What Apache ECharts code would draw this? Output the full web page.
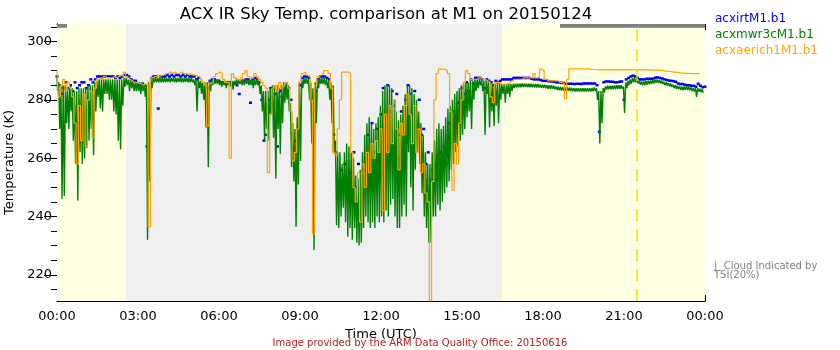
<!DOCTYPE html>
<html>
<head>
<meta charset="utf-8">
<title>ACX IR Sky Temp. comparison at M1 on 20150124</title>
<script src="https://cdn.jsdelivr.net/npm/echarts@6/dist/echarts.min.js"></script>
<style>
    html, body { margin: 0; padding: 0; background: #fff; }
    #chart { width: 840px; height: 350px; }
</style>
</head>
<body>
<div id="chart"></div>
<script>
// 5-minute samples, one row per hour (:00 ... :55); irt also has the 24:00 point
var irtTemp = [
    288, 285, 282, 284, 286, 284, 285, 283, 286, 284, 285, 286,
    286, 284, 285, 287, 286, 287, 288, 288, 288, 288, 288, 288,
    288, 288, 287.5, 288, 287.5, 288, 288.5, 288.5, 288, 287, 286.5, 286.5,
    285.5, 285, 285.5, 285, 264, 272, 287.5, 288, 288, 277, 288, 288,
    288, 288.5, 288, 288.5, 288, 288.5, 288.5, 288, 288.5, 288, 288.5, 288,
    288, 288, 287, 287.5, 285, 283, 282, 284, 286.5, 287, 287, 286.5,
    286.5, 286, 286, 285.5, 286, 286, 285.5, 285.5, 285, 282, 286, 286.5,
    287, 287, 279, 287, 287.5, 287, 286, 280, 266, 268, 280, 284,
    284, 282, 264, 283, 281, 284, 285, 284, 280, 262, 266, 270,
    285, 287.5, 288, 288, 287.5, 280, 243, 283, 287, 288, 288, 288,
    287.5, 287, 283, 268, 262, 250, 256, 249, 258, 248, 255, 250,
    262, 250, 258, 245, 256, 250, 268, 258, 272, 262, 270, 264,
    275, 284, 270, 285, 276, 283, 278, 282, 268, 276, 270, 280,
    285, 282, 275, 283, 270, 280, 268, 270, 258, 262, 252, 256,
    258, 254, 262, 256, 264, 258, 272, 266, 276, 270, 279, 274,
    284, 282, 286, 283, 287, 285.5, 287.5, 287.5, 287.5, 287, 284, 287,
    286.5, 286, 285, 286.5, 286, 286.5, 287, 287, 287, 287, 287, 287.5,
    287.5, 287.5, 287.5, 287.5, 287.5, 287.5, 287.5, 287.2, 287, 287, 287, 286.8,
    286.5, 286.5, 286.5, 286.3, 286.3, 286.2, 286, 286, 285.8, 285.8, 285.5, 285.5,
    285.5, 285.5, 285.4, 285.5, 285.5, 285.4, 285.6, 285.6, 285.6, 285.6, 285.6, 285.6,
    285, 269, 279, 286, 286.3, 286.3, 286.2, 286.2, 286, 286, 286.2, 286.3,
    280, 287, 287.5, 288, 288.3, 288, 287.5, 287, 287, 287, 287.2, 287.2,
    287.2, 287.3, 287.6, 287.7, 287.5, 287.3, 287, 286.8, 286.6, 286.5, 286.4, 286.2,
    285.6, 285.4, 285.4, 285.2, 285, 285, 284.8, 284.8, 284.5, 285.5, 284.8, 284.3,
    284.5
];

// microwave radiometer: highest and lowest value inside each 5-minute bin
var mwrHigh = [
    287.5, 286, 285, 285, 285, 284, 285, 284, 283, 283, 284, 284,
    284, 284, 285, 285, 285, 286, 286.5, 287, 287, 287, 287, 287,
    287, 287, 287, 287, 287, 287, 287.5, 287.5, 287, 287, 286.5, 286,
    286, 286, 286, 285.5, 285, 286, 287, 287.5, 287.5, 287.5, 287.5, 287.5,
    287.5, 287.5, 287.5, 287.5, 287.5, 287.5, 287.5, 287.5, 287.5, 287.5, 287.5, 287.5,
    287.5, 287, 287, 287, 286.5, 286, 286, 286, 286.5, 287, 287, 287,
    287, 286.5, 286.5, 286.5, 286.5, 286.5, 286.5, 286.5, 287, 287, 287, 287,
    287, 287, 287, 287, 287, 287, 286.5, 285, 283, 283, 283, 284,
    285, 285, 285, 284, 285, 286, 286, 285, 279, 272, 270, 274,
    286, 287, 287.5, 287.5, 287, 286, 284, 286, 287, 287.5, 287.5, 287.5,
    287, 286.5, 286, 285, 266, 262, 262, 258, 262, 265, 264, 262,
    260, 254, 253, 256, 262, 268, 272, 274, 272, 270, 272, 274,
    278, 283, 285, 285.5, 285, 284, 280, 276, 273, 275, 278, 282,
    285, 285, 284, 282, 280, 276, 272, 268, 262, 258, 258, 262,
    266, 270, 272, 270, 271, 274, 277, 278, 280, 282, 283, 284,
    285, 285.5, 286, 286, 286.5, 286.5, 287, 287, 287, 286.5, 286.5, 286.5,
    286, 286, 285.5, 285.5, 285.5, 285.5, 285.5, 285.5, 285.5, 285.5, 285.5, 285.5,
    285.5, 285.5, 285.5, 285.6, 285.6, 285.5, 285.5, 285.5, 285.4, 285.4, 285.4, 285.3,
    285.2, 285.2, 285, 285, 285, 284.8, 284.6, 284.5, 284.4, 284.3, 284.2, 284.2,
    284.2, 284.1, 284, 284, 284, 284, 284, 284, 284, 284, 284.1, 284.2,
    284, 283, 283, 284, 284.6, 284.8, 284.8, 284.8, 284.9, 285, 285, 285,
    284.5, 286, 286.5, 287, 287.5, 287.5, 287, 286.5, 286.3, 286.3, 286.5, 286.6,
    286.6, 286.8, 287, 287, 286.8, 286.6, 286.2, 286, 285.8, 285.6, 285.2, 285,
    284.8, 284.6, 284.5, 284.6, 284.6, 284.5, 284.2, 284, 284, 284, 283.8, 283.6
];

var mwrLow = [
    283, 270, 246, 247, 272, 270, 276, 266, 258, 245.5, 262, 258,
    260, 263.5, 266, 270, 261, 276, 281, 277, 276, 282, 282, 280,
    280, 276, 275, 266, 263, 278, 284.5, 285, 283, 284, 283, 283,
    283, 282, 283, 281, 232, 252, 284, 286, 286, 286, 286, 286,
    286, 286.2, 286, 286.3, 286, 286, 286.2, 286, 286, 286.2, 286, 286,
    286, 285, 276, 284, 282, 280, 270.5, 257, 283, 285, 285.5, 285.5,
    285, 284.5, 285, 284, 285, 284.5, 283.5, 285, 285, 285.5, 285, 285,
    285.5, 285, 285, 284, 285, 285, 282, 276, 266, 270, 266, 275,
    267, 253, 270, 261.5, 272, 279, 280, 276, 257, 252, 236.5, 251,
    259, 284, 285.5, 285.5, 280, 265, 228.5, 272, 284, 285.5, 285.5, 285,
    284, 280, 272, 262, 237, 236, 240, 243, 238, 233, 236, 232,
    236, 231, 230, 231, 236, 240, 238, 236, 238, 236, 240, 238,
    240, 238, 242, 240, 244, 246, 240, 236, 236, 240, 244, 240,
    262, 250, 242, 256, 262, 258, 248, 240, 236, 231, 231, 240,
    240, 244, 242, 245, 248, 250, 252, 256, 258, 262, 264, 266,
    268, 270, 274, 276, 270, 280, 283, 284, 285, 283, 268, 282,
    270.5, 276, 271, 278, 272, 280, 282, 279, 282, 281, 283, 284,
    284.2, 284.3, 284.3, 284.4, 284.4, 284.3, 284.3, 284.3, 284.2, 284.2, 284.2, 284.1,
    284, 284, 283.8, 283.8, 283.8, 283.6, 283.4, 283.3, 283.2, 283.1, 283, 283,
    283, 282.9, 282.8, 282.8, 282.8, 282.8, 282.8, 282.8, 282.8, 282.8, 282.9, 283,
    280, 265, 272, 282.5, 283.5, 283.6, 283.6, 283.6, 283.7, 283.8, 283.8, 283.8,
    275.5, 284, 285, 285.5, 286, 286, 285.6, 285.2, 285, 285, 285.2, 285.3,
    285.4, 285.6, 285.8, 285.8, 285.6, 285.4, 285, 284.8, 284.6, 284.4, 284, 283.8,
    283.6, 283.4, 283.3, 283.4, 283.4, 283.3, 283, 282.8, 281, 282.8, 282.6, 282.4
];

var aeriTemp = [
    290, 281, 285, 287, 283, 286, 284, 281, 272, 258, 278, 266,
    282, 264, 280, 283, 267, 284, 287, 287.5, 287, 288, 287.5, 287.5,
    287.5, 288, 287.5, 288, 288.5, 288, 289.5, 288, 287, 286.5, 286, 286,
    285.5, 285.5, 285, 285.5, 285.5, 236.5, 287.5, 288, 288, 288, 288.3, 288.5,
    289, 289, 289.5, 289, 289.5, 289, 289, 289.5, 289, 289, 288.5, 289,
    288.5, 288.5, 288, 288, 287, 286, 285, 271, 285.5, 286, 288, 289,
    289.5, 289, 287, 286, 286, 260, 289, 287.5, 287, 286.5, 287.5, 289,
    290, 288, 287.5, 287.5, 289, 288, 287, 286, 285, 284, 255, 275,
    284, 285, 283, 286, 284, 285, 286, 284, 276, 259, 262, 270,
    286, 289, 289.5, 288.5, 288, 280, 234, 285, 288, 288.5, 289, 290,
    290, 289, 284, 262, 261, 270, 280, 289.5, 289.5, 289.5, 289, 262,
    250, 245, 255, 238, 258, 250, 262, 255, 265, 260, 266, 262,
    270, 242, 275, 262, 278, 265, 280, 270, 256, 272, 268, 278,
    282, 275, 265, 278, 262, 270, 255, 258, 248, 245, 211, 252,
    280, 289, 290.5, 290.5, 290.5, 290, 289, 276, 249, 265, 258, 272,
    280, 286, 290, 289, 287, 287, 287, 287.5, 287.5, 287, 287, 286.5,
    286, 281, 279, 286, 286, 285.5, 285, 285, 285.5, 286, 286.5, 287,
    287, 287, 287, 287.5, 287.5, 287.5, 287.5, 287.5, 289, 287.5, 288, 290.5,
    290, 287, 286.5, 286.5, 286.5, 286.5, 286.5, 286, 286, 285.5, 280.5, 287,
    290.6, 290.6, 290.6, 290.6, 290.6, 290.6, 290.6, 290.6, 290.6, 290.4, 290.4, 290.4,
    290.3, 290.3, 290.3, 290.3, 290.3, 290.3, 290.3, 290.3, 290.3, 290.3, 290.3, 290.3,
    290.3, 290.3, 290.3, 290.3, 290.3, 290.3, 290.3, 290.3, 290.3, 290.3, 290.3, 290.3,
    290.2, 290.2, 290.2, 290.1, 290.1, 290.1, 289.8, 289.8, 289.7, 289.6, 289.5, 289.4,
    289.3, 289.2, 289.1, 289.1, 289.1, 289.0, 289.0, 289.0, 289.0, 289.0, null, null
];

var seriesNames = ['acxirtM1.b1', 'acxmwr3cM1.b1', 'acxaerich1M1.b1'];
var hourLabels = ['00:00', '03:00', '06:00', '09:00', '12:00', '15:00', '18:00', '21:00', '00:00'];
var tempTicks = [220, 240, 260, 280, 300];

// shading periods in hours UTC
var yellowSpans = [[0, 2.56], [16.48, 24]];
var greySpans = [[2.56, 16.48]];
var missingSpans = [[0, 0.37], [18.63, 24]];
var flagHour = 21.49;

function toPairs(values) {
    var out = [];
    for (var i = 0; i < values.length; i++) {
        out.push([i / 12, values[i]]);
    }
    return out;
}

// high then low inside every bin, so the trace fills the bin like the 20 s data does
function binPairs(high, low) {
    var out = [];
    for (var i = 0; i < high.length; i++) {
        out.push([i / 12, high[i]]);
        out.push([i / 12 + 1 / 24, low[i]]);
    }
    return out;
}

var font = 'DejaVu Sans';
var myChart = echarts.init(document.getElementById('chart'), null, {renderer: 'canvas'});

var areas = [];
yellowSpans.forEach(function (s) {
    areas.push([{xAxis: s[0], itemStyle: {color: '#ffffe2'}}, {xAxis: s[1]}]);
});
greySpans.forEach(function (s) {
    areas.push([{xAxis: s[0], itemStyle: {color: '#efefef'}}, {xAxis: s[1]}]);
});
missingSpans.forEach(function (s) {
    areas.push([{xAxis: s[0], yAxis: 304.7, itemStyle: {color: '#808080'}}, {xAxis: s[1], yAxis: 306}]);
});

var yAxisBase = {
    type: 'value',
    min: 211,
    max: 306,
    splitNumber: 5,
    axisLine: {show: true, lineStyle: {color: '#000', width: 1}},
    axisTick: {show: true, inside: true, length: 13, customValues: tempTicks, lineStyle: {color: '#000'}},
    minorTick: {show: true, splitNumber: 4, length: 6, lineStyle: {color: '#000'}},
    splitLine: {show: false}
};

var option = {
    animation: false,
    backgroundColor: '#fff',
    title: {
        text: 'ACX IR Sky Temp. comparison at M1 on 20150124',
        left: 381,
        top: 1,
        textAlign: 'center',
        textStyle: {fontFamily: font, fontSize: 16.5, fontWeight: 'normal', color: '#000'}
    },
    grid: {left: 57, right: 135, top: 24, bottom: 49, containLabel: false, outerBoundsMode: 'none'},
    xAxis: [
        {
            type: 'value',
            min: 0,
            max: 24,
            interval: 3,
            name: 'Time (UTC)',
            nameLocation: 'middle',
            nameGap: 23,
            nameTextStyle: {fontFamily: font, fontSize: 13, color: '#000'},
            axisLine: {show: true, onZero: false, lineStyle: {color: '#000', width: 1}},
            axisTick: {show: true, inside: true, length: 6, lineStyle: {color: '#000'}},
            axisLabel: {
                margin: 9,
                fontFamily: font,
                fontSize: 13,
                color: '#000',
                formatter: function (v) { return hourLabels[Math.round(v / 3)]; }
            },
            splitLine: {show: false}
        },
        {
            type: 'value',
            position: 'top',
            min: 0,
            max: 24,
            interval: 3,
            axisLine: {show: true, onZero: false, lineStyle: {color: '#000', width: 1}},
            axisTick: {show: true, inside: true, length: 6, lineStyle: {color: '#000'}},
            axisLabel: {show: false},
            splitLine: {show: false}
        }
    ],
    yAxis: [
        echarts.util.merge({
            position: 'left',
            name: 'Temperature (K)',
            nameLocation: 'middle',
            nameGap: 29,
            nameTextStyle: {fontFamily: font, fontSize: 13, color: '#000'},
            axisLabel: {
                margin: 5,
                fontFamily: font,
                fontSize: 13,
                color: '#000',
                customValues: tempTicks
            }
        }, yAxisBase, true),
        echarts.util.merge({
            position: 'right',
            axisLabel: {show: false}
        }, yAxisBase, true)
    ],
    series: [
        {
            name: 'shading',
            type: 'line',
            data: [],
            z: 1,
            silent: true,
            markArea: {silent: true, data: areas},
            markLine: {
                silent: true,
                symbol: 'none',
                label: {show: false},
                lineStyle: {color: '#e8e800', type: [12, 8], width: 1.5},
                data: [{xAxis: flagHour}]
            }
        },
        {
            name: seriesNames[0],
            type: 'line',
            z: 2,
            data: toPairs(irtTemp),
            showSymbol: true,
            showAllSymbol: true,
            symbol: 'rect',
            symbolSize: [3, 2.5],
            itemStyle: {color: '#0000ff'},
            lineStyle: {opacity: 0}
        },
        {
            name: seriesNames[1],
            type: 'line',
            z: 3,
            step: 'middle',
            data: binPairs(mwrHigh, mwrLow),
            showSymbol: false,
            lineStyle: {color: '#008000', width: 1.4}
        },
        {
            name: seriesNames[2],
            type: 'line',
            z: 4,
            step: 'middle',
            data: toPairs(aeriTemp),
            showSymbol: false,
            connectNulls: false,
            lineStyle: {color: '#ffa500', width: 1.2}
        }
    ],
    graphic: [
        {type: 'text', left: 715, top: 13, style: {text: seriesNames[0], fill: '#0000ff', font: '12px "DejaVu Sans"'}},
        {type: 'text', left: 715, top: 29, style: {text: seriesNames[1], fill: '#008000', font: '12px "DejaVu Sans"'}},
        {type: 'text', left: 715, top: 45, style: {text: seriesNames[2], fill: '#ffa500', font: '12px "DejaVu Sans"'}},
        {type: 'text', left: 714, top: 261, style: {text: '|  Cloud Indicated by\nTSI(20%)', fill: '#808080', font: '10px "DejaVu Sans"', lineHeight: 9}},
        {type: 'text', left: 'center', top: 338, style: {
            text: 'Image provided by the ARM Data Quality Office: 20150616',
            fill: '#b22222', font: '10px "DejaVu Sans"'
        }}
    ]
};

myChart.setOption(option);
</script>
</body>
</html>
